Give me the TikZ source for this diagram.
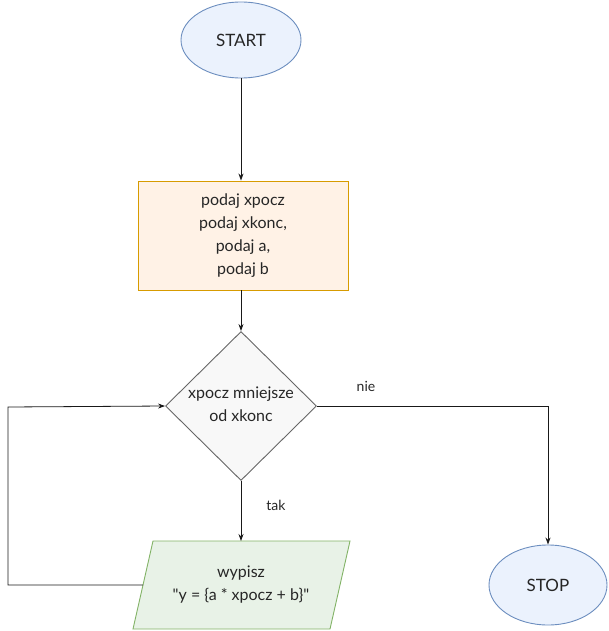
\documentclass[tikz,border=0pt]{standalone}
\usepackage{fontspec}
\setmainfont{Lato}
\usetikzlibrary{shapes.geometric,arrows.meta}
\definecolor{bluefill}{HTML}{DAE8FC}
\definecolor{bluestroke}{HTML}{6C8EBF}
\definecolor{orfill}{HTML}{FFE6CC}
\definecolor{orstroke}{HTML}{D79B00}
\definecolor{grfill}{HTML}{F5F5F5}
\definecolor{grstroke}{HTML}{666666}
\definecolor{gnfill}{HTML}{D5E8D4}
\definecolor{gnstroke}{HTML}{82B366}
\tikzset{
  term/.style={ellipse, draw=bluestroke, fill=bluefill!55!white, line width=0.9pt, minimum width=120pt, minimum height=76pt, inner sep=0pt},
  procbox/.style={rectangle, draw=orstroke, fill=orfill!50!white, line width=0.9pt, minimum width=210pt, minimum height=109pt, inner sep=0pt, align=center},
  decbox/.style={diamond, draw=grstroke, fill=grfill!70!white, line width=0.9pt, minimum width=151pt, minimum height=149pt, inner sep=0pt},
  txt/.style={align=center, font=\fontsize{16}{23}\selectfont, text=black!85},
  conn/.style={draw=black!90, line width=0.8pt, -{Stealth[length=7pt,width=5pt]}},
  lbl/.style={font=\fontsize{14}{16}\selectfont, text=black!85}
}
\begin{document}
\begin{tikzpicture}[x=1pt,y=-1pt]
\useasboundingbox (0,0) rectangle (608,631);
\node[term] (start) at (241,40) {};
\node[txt, font=\fontsize{17}{20}\selectfont] at (start) {START};
\node[procbox] (in) at (243,235.5) {};
\node[txt] at (in) {podaj xpocz\\podaj xkonc,\\podaj a,\\podaj b};
\node[decbox] (dec) at (241,406) {};
\node[txt] at (241,404) {xpocz mniejsze\\od xkonc};
\draw[draw=gnstroke, fill=gnfill!55!white, line width=0.9pt] (153,541) -- (350,541) -- (330,629) -- (133,629) -- cycle;
\node[txt] (out) at (241,585) {wypisz\\\textquotedbl y = \{a * xpocz + b\}\textquotedbl};
\coordinate (outL) at (143,585);
\coordinate (outT) at (241,541);
\node[term, minimum width=118pt, minimum height=80pt] (stop) at (548,585) {};
\node[txt, font=\fontsize{17}{20}\selectfont] at (stop) {STOP};
\coordinate (c1) at (548,406);
\coordinate (c2) at (8,585);
\coordinate (c3) at (8,407);
\draw[conn] (start.south) -- (in.north -| start.south);
\draw[conn] (in.south -| dec.north) -- (dec.north);
\draw[conn] (dec.south) -- (outT);
\draw[conn] (dec.east) -- (c1) -- (stop.north);
\draw[conn] (outL) -- (c2) -- (c3) -- (dec.west);
\node[lbl] at (366,386) {nie};
\node[lbl] at (276,505) {tak};
\end{tikzpicture}
\end{document}
